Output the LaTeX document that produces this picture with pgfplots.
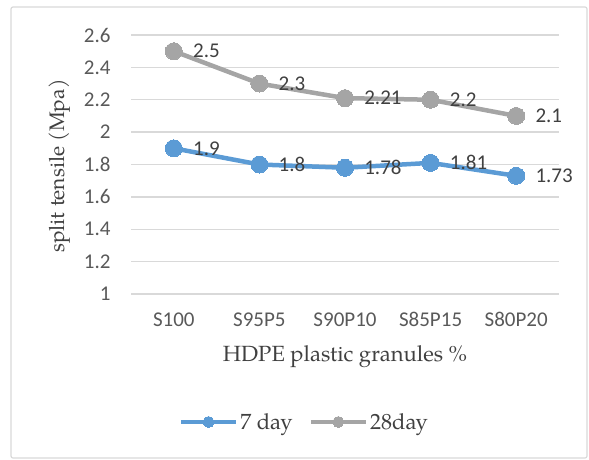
\documentclass[border=0pt]{standalone}
\usepackage{fontspec}
\setmainfont{TeX Gyre Pagella}
\newfontfamily\calibri{Carlito}
\usepackage{pgfplots}
\pgfplotsset{compat=1.18}
\definecolor{blu}{HTML}{5B9BD5}
\definecolor{gry}{HTML}{A5A5A5}
\definecolor{gridc}{HTML}{D9D9D9}
\definecolor{txt}{HTML}{595959}
\definecolor{dtxt}{HTML}{404040}
\begin{document}
\begin{tikzpicture}
\path[use as bounding box] (0pt,0pt) rectangle (589pt,459pt);
\draw[gridc, line width=1.2pt, rounded corners=2pt] (11pt,1pt) rectangle (587pt,452pt);
\begin{axis}[
  at={(131pt,165pt)}, anchor=south west,
  scale only axis, width=428pt, height=259pt,
  xmin=-0.5, xmax=4.5, ymin=1, ymax=2.6,
  ytick={1,1.2,1.4,1.6,1.8,2,2.2,2.4,2.6},
  xtick={0,1,2,3,4}, xticklabels={S100,S95P5,S90P10,S85P15,S80P20},
  ymajorgrids, grid style={gridc, line width=1.3pt},
  axis line style={draw=none}, major tick style={draw=none},
  ticklabel style={font=\calibri\fontsize{21}{25}\selectfont, text=txt},
  /pgf/number format/assume math mode=true,
  yticklabel style={xshift=-17pt},
  xticklabel style={yshift=-15pt},
  clip=false,
  nodes near coords,
  every node near coord/.append style={anchor=west, xshift=16pt, font=\calibri\fontsize{21}{25}\selectfont, text=dtxt},
  legend columns=2,
  legend style={draw=none, fill=none, at={(axis description cs:0.405,-0.494)}, anchor=center,
    font=\fontsize{22}{26}\selectfont, text=dtxt,
    /tikz/every even column/.append style={column sep=14pt}},
  legend image code/.code={\draw[mark repeat=2, mark phase=2, #1, mark size=5.5pt] plot coordinates {(0pt,0pt)(27.5pt,0pt)(55pt,0pt)};},
]
\addplot[blu, line width=4.5pt, mark=*, mark size=8.5pt, mark options={line width=0pt}] coordinates {(0,1.9) (1,1.8) (2,1.78) (3,1.81) (4,1.73)};
\addlegendentry{7 day}
\addplot[gry, line width=4.5pt, mark=*, mark size=8.5pt, mark options={line width=0pt}] coordinates {(0,2.5) (1,2.3) (2,2.21) (3,2.2) (4,2.1)};
\addlegendentry{28day}
\end{axis}
\node[rotate=90, font=\fontsize{21}{25}\selectfont, text=dtxt] at (60pt,293pt) {split tensile (Mpa)};
\node[font=\fontsize{22}{26}\selectfont, text=dtxt] at (345pt,102pt) {HDPE plastic granules \%};
\end{tikzpicture}
\end{document}
